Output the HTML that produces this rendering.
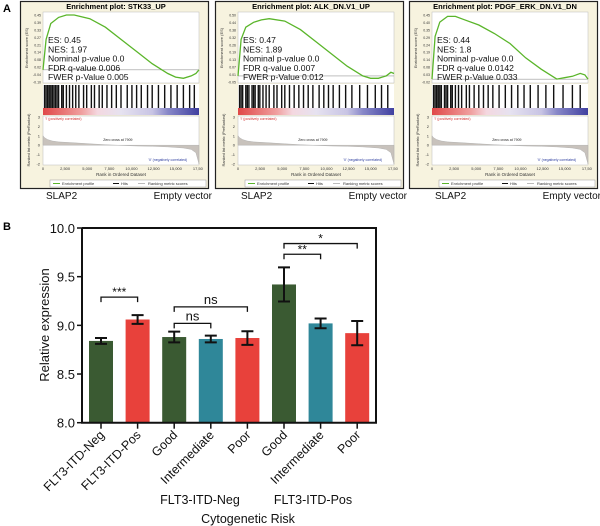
<!DOCTYPE html>
<html><head><meta charset="utf-8"><style>
html,body{margin:0;padding:0;background:#fff;}
svg{display:block;font-family:"Liberation Sans",Arial,sans-serif;}
</style></head><body>
<svg id="fig" width="600" height="526" viewBox="0 0 600 526"></svg>
<script>
// ===== Panel A data =====
const gseaTitles = ["Enrichment plot: STK33_UP","Enrichment plot: ALK_DN.V1_UP","Enrichment plot: PDGF_ERK_DN.V1_DN"];
const gseaStats = [
 ["ES: 0.45","NES: 1.97","Nominal p-value 0.0","FDR q-value 0.006","FWER p-Value 0.005"],
 ["ES: 0.47","NES: 1.89","Nominal p-value 0.0","FDR q-value 0.007","FWER p-Value 0.012"],
 ["ES: 0.44","NES: 1.8","Nominal p-value 0.0","FDR q-value 0.0142","FWER p-Value 0.033"]];
const esRank = [0,0.02,0.05,0.1,0.15,0.2,0.3,0.4,0.5,0.6,0.7,0.8,0.85,0.9,0.95,0.98,1.0];
const esCurve1 = [0,0.25,0.38,0.43,0.45,0.45,0.42,0.35,0.25,0.15,0.05,-0.03,-0.06,-0.07,-0.05,-0.03,0.0];
const esCurve2 = [0,0.30,0.40,0.44,0.46,0.47,0.45,0.38,0.28,0.18,0.08,0.0,-0.02,-0.02,0.0,0.03,0.02];
const esCurve3 = [0,0.30,0.40,0.44,0.44,0.42,0.38,0.32,0.25,0.15,0.07,0.0,0.01,0.02,0.04,0.03,0.0];
const esMax = [0.45,0.50,0.45];
const esMin = [-0.10,-0.05,-0.02];
const hits1 = [0.01,0.02,0.03,0.04,0.05,0.06,0.07,0.08,0.09,0.10,0.12,0.13,0.15,0.17,0.19,0.21,0.23,0.26,0.28,0.31,0.33,0.36,0.38,0.41,0.44,0.47,0.50,0.54,0.57,0.60,0.63,0.67,0.70,0.74,0.78,0.82,0.86,0.90,0.94,0.97];
const hits2 = [0.01,0.02,0.03,0.05,0.06,0.07,0.09,0.10,0.11,0.13,0.14,0.16,0.18,0.20,0.23,0.25,0.28,0.30,0.33,0.36,0.39,0.42,0.45,0.48,0.52,0.55,0.58,0.61,0.65,0.69,0.73,0.78,0.83,0.88,0.92,0.96];
const hits3 = [0.01,0.02,0.03,0.04,0.05,0.06,0.08,0.09,0.10,0.12,0.13,0.15,0.17,0.19,0.22,0.24,0.27,0.30,0.33,0.36,0.39,0.43,0.47,0.51,0.55,0.59,0.63,0.68,0.73,0.78,0.84,0.90,0.95];
const rankTicks = ["0","2,500","5,000","7,500","10,000","12,500","15,000","17,50"];
const metricRank = [0,0.01,0.03,0.06,0.1,0.2,0.3,0.4,0.5,0.6,0.7,0.8,0.9,0.95,0.98,1.0];
const metricVals = [1.0,0.8,0.6,0.45,0.35,0.25,0.15,0.05,-0.02,-0.08,-0.12,-0.18,-0.3,-0.45,-0.8,-2.0];

// ===== Panel B data =====
const categories = ["FLT3-ITD-Neg","FLT3-ITD-Pos","Good","Intermediate","Poor","Good","Intermediate","Poor"];
const means = [8.84,9.06,8.88,8.86,8.87,9.42,9.02,8.92];
const errs = [0.03,0.045,0.055,0.035,0.07,0.175,0.05,0.125];
const barColors = ["#3a5a32","#e8413b","#3a5a32","#2f8799","#e8413b","#3a5a32","#2f8799","#e8413b"];
const yTicks = [8.0,8.5,9.0,9.5,10.0];
const sigs = [{a:0,b:1,t:"***",y:9.29},{a:2,b:3,t:"ns",y:9.02},{a:2,b:4,t:"ns",y:9.19},{a:5,b:6,t:"**",y:9.73},{a:5,b:7,t:"*",y:9.84}];

const NS="http://www.w3.org/2000/svg";
const svg=document.getElementById('fig');
function el(tag,attrs,parent){const e=document.createElementNS(NS,tag);for(const k in attrs)e.setAttribute(k,attrs[k]);(parent||svg).appendChild(e);return e;}
function txt(s,attrs,parent){const e=el('text',attrs,parent);e.textContent=s;return e;}

// label A
let t=txt("A",{x:3,y:12,"font-size":11,"font-weight":"bold"});



const panelX=[20,215,409];
const curves=[esCurve1,esCurve2,esCurve3];
const hitsAll=[hits1,hits2,hits3];
for(let p=0;p<3;p++){
  const g=el('g',{transform:`translate(${panelX[p]},0)`});
  
  
  el('rect',{x:0.5,y:1.5,width:188,height:187,fill:"#f7f3df",stroke:"#222","stroke-width":1.2},g);
  const tt=txt(gseaTitles[p],{x:96,y:9,"font-size":7.5,"font-weight":"bold","text-anchor":"middle"},g);
  
  
  const L=23,R=179;
  // ES area
  el('rect',{x:L,y:12,width:R-L,height:71,fill:"#fff",stroke:"#bbb","stroke-width":0.5},g);
  const esTop=15,esBot=82;
  const ey=v=>esTop+(esMax[p]-v)/(esMax[p]-esMin[p])*(esBot-esTop);
  const rx=f=>L+f*(R-L);
  el('line',{x1:L,x2:R,y1:ey(0),y2:ey(0),stroke:"#999","stroke-width":0.6},g);
  for(let k=0;k<=9;k++){const v=esMax[p]-k*(esMax[p]-esMin[p])/9;
    txt(v.toFixed(2),{x:L-2,y:ey(v)+1.5,"font-size":3.5,"text-anchor":"end",fill:"#333"},g);}
  txt("Enrichment score (ES)",{x:0,y:0,"font-size":4,"text-anchor":"middle",fill:"#333",transform:`translate(8,48) rotate(-90)`},g);
  let d="";const c=curves[p];
  for(let i=0;i<esRank.length;i++)d+=(i?"L":"M")+rx(esRank[i]).toFixed(1)+","+ey(c[i]).toFixed(1);
  const path=el('path',{d:d,fill:"none",stroke:"#5ab52a","stroke-width":1.3},g);
  
  
  for(let s=0;s<5;s++){
    txt(gseaStats[p][s],{x:L+5,y:43+s*9.3,"font-size":8.6,fill:"#111"},g);
  }
  // hits
  el('rect',{x:L,y:84,width:R-L,height:24,fill:"#fff"},g);
  for(const h of hitsAll[p]){el('line',{x1:rx(h),x2:rx(h),y1:85,y2:108,stroke:"#111","stroke-width":1.4},g);}
  // color band
  const gid='band'+p;
  const gr=el('linearGradient',{id:gid,x1:0,x2:1,y1:0,y2:0},el('defs',{},g));
  [["0","#e04848"],["0.25","#f0a0a0"],["0.35","#f4d8e0"],["0.5","#e6e2f0"],["0.7","#c8c4e4"],["0.8","#8888c8"],["1","#4040a0"]].forEach(s=>el('stop',{offset:s[0],"stop-color":s[1]},gr));
  el('rect',{x:L,y:108,width:R-L,height:7,fill:`url(#${gid})`},g);
  // ranked metric
  el('rect',{x:L,y:116,width:R-L,height:49,fill:"#fff",stroke:"#bbb","stroke-width":0.5},g);
  const my=v=>117+(3-v)/5*47;
  ["3","2","1","0","-1","-2"].forEach((s,i)=>txt(s,{x:L-3,y:my(3-i)+1.5,"font-size":4,"text-anchor":"end",fill:"#333"},g));
  let md="M"+rx(0)+","+my(0);
  for(let i=0;i<metricRank.length;i++)md+="L"+rx(metricRank[i]).toFixed(1)+","+my(metricVals[i]).toFixed(1);
  md+="L"+rx(1)+","+my(0)+"Z";
  el('path',{d:md,fill:"#c8c2bc",stroke:"#aaa","stroke-width":0.4},g);
  txt("'I' (positively correlated)",{x:L+2,y:120,"font-size":3.5,fill:"#d03030"},g);
  txt("Zero cross at 7909",{x:rx(0.48),y:141,"font-size":3.5,"text-anchor":"middle",fill:"#222"},g);
  txt("'II' (negatively correlated)",{x:rx(0.8),y:161,"font-size":3.5,"text-anchor":"middle",fill:"#3040a0"},g);
  txt("Ranked list metric (PreRanked)",{x:0,y:0,"font-size":3.8,"text-anchor":"middle",fill:"#333",transform:`translate(10,140) rotate(-90)`},g);
  rankTicks.forEach((s,i)=>txt(s,{x:rx(i/7.05),y:170,"font-size":4,"text-anchor":"middle",fill:"#333"},g));
  txt("Rank in Ordered Dataset",{x:(L+R)/2,y:176,"font-size":4.5,"text-anchor":"middle",fill:"#333"},g);
  // legend
  const lg=el('rect',{x:30,y:180,width:156,height:7,fill:"#fff",stroke:"#999","stroke-width":0.5},g);
  
  
  el('line',{x1:33,x2:40,y1:183.5,y2:183.5,stroke:"#5ab52a","stroke-width":1},g);
  txt("Enrichment profile",{x:42,y:185,"font-size":4,fill:"#333"},g);
  el('line',{x1:93,x2:99,y1:183.5,y2:183.5,stroke:"#111","stroke-width":1},g);
  txt("Hits",{x:101,y:185,"font-size":4,fill:"#333"},g);
  el('line',{x1:118,x2:125,y1:183.5,y2:183.5,stroke:"#bbb","stroke-width":1},g);
  txt("Ranking metric scores",{x:128,y:185,"font-size":4,fill:"#333"},g);
  const s1=txt("SLAP2",{x:26,y:199,"font-size":10,fill:"#111"},g);
  
  
  const s2=txt("Empty vector",{x:192,y:199,"font-size":10,"text-anchor":"end",fill:"#111"},g);
  
  
}

// ===== Panel B =====
t=txt("B",{x:3,y:230,"font-size":11,"font-weight":"bold"});


const X0=82,X1=376,Y8=422.7,Y10=228;
const yS=v=>Y8-(v-8)/2*(Y8-Y10);
const xS=i=>101+i*36.6;
const bw=24;
for(let i=0;i<means.length;i++){
  const r=el('rect',{x:xS(i)-bw/2,y:yS(means[i]),width:bw,height:Y8-yS(means[i]),fill:barColors[i]});
  
  
  const top=yS(means[i]+errs[i]),bot=yS(means[i]-errs[i]);
  const eb=el('path',{d:`M${xS(i)},${top}V${bot}M${xS(i)-6},${top}H${xS(i)+6}M${xS(i)-6},${bot}H${xS(i)+6}`,stroke:"#111","stroke-width":2,fill:"none"});
  
  
  el('line',{x1:xS(i),x2:xS(i),y1:Y8,y2:Y8+6,stroke:"#111","stroke-width":1.5});
  const cl=txt(categories[i],{x:0,y:0,"font-size":12.5,"text-anchor":"end",fill:"#111",transform:`translate(${xS(i)+4},${Y8+13}) rotate(-45)`});
  
  
}
const ax=el('path',{d:`M${X0},${Y10}V${Y8}H${X1}V${Y10}H${X0}`,fill:"none",stroke:"#111","stroke-width":2});


yTicks.forEach(v=>{
  el('line',{x1:X0-5,x2:X0,y1:yS(v),y2:yS(v),stroke:"#111","stroke-width":1.5});
  const tl=txt(v.toFixed(1),{x:X0-7,y:yS(v)+5,"font-size":13,"text-anchor":"end",fill:"#111"});
  
  
});
const yt=txt("Relative expression",{x:0,y:0,"font-size":13,"text-anchor":"middle",fill:"#111",transform:`translate(49,325) rotate(-90)`});


sigs.forEach(s=>{
  const y=yS(s.y);
  const b=el('path',{d:`M${xS(s.a)},${y+5}V${y}H${xS(s.b)}V${y+5}`,fill:"none",stroke:"#111","stroke-width":1.3});
  
  
  const st=txt(s.t,{x:(xS(s.a)+xS(s.b))/2,y:y-(s.t==="ns"?3:1),"font-size":s.t==="ns"?13:12,"text-anchor":"middle",fill:"#111"});
  
  
});
let gl=txt("FLT3-ITD-Neg",{x:200,y:504,"font-size":12.5,"text-anchor":"middle",fill:"#111"});


gl=txt("FLT3-ITD-Pos",{x:313,y:504,"font-size":12.5,"text-anchor":"middle",fill:"#111"});


gl=txt("Cytogenetic Risk",{x:248,y:523,"font-size":12.5,"text-anchor":"middle",fill:"#111"});


</script>
</body></html>
